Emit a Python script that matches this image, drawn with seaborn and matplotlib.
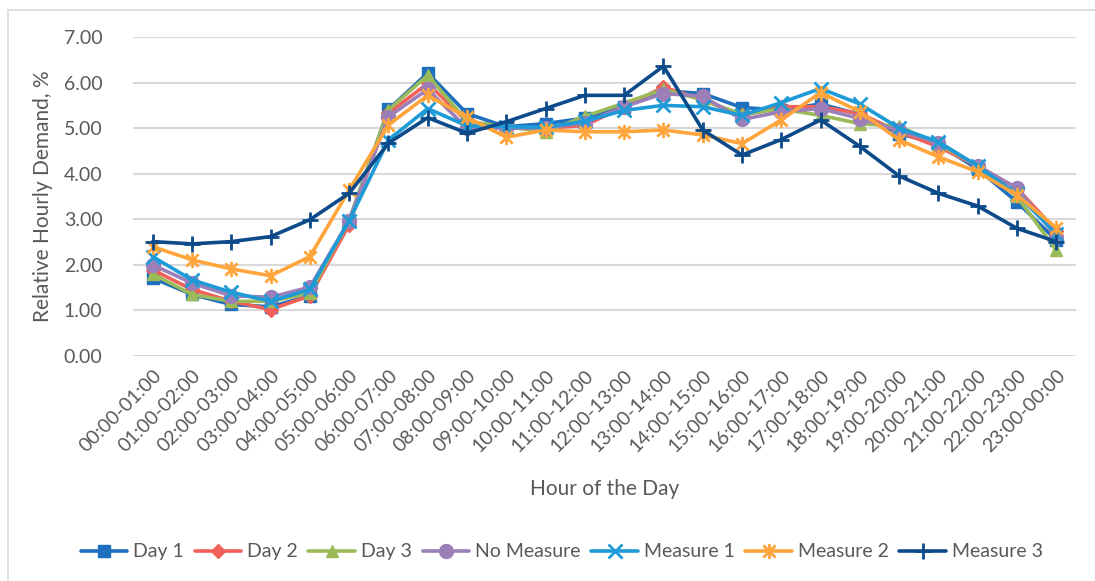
import numpy as np
import pandas as pd
import matplotlib
matplotlib.use("Agg")
import matplotlib.pyplot as plt
from matplotlib.path import Path
from matplotlib.patches import Rectangle
import seaborn as sns

# hours of the day (x categories)
hours = ["00:00-01:00", "01:00-02:00", "02:00-03:00", "03:00-04:00", "04:00-05:00",
         "05:00-06:00", "06:00-07:00", "07:00-08:00", "08:00-09:00", "09:00-10:00",
         "10:00-11:00", "11:00-12:00", "12:00-13:00", "13:00-14:00", "14:00-15:00",
         "15:00-16:00", "16:00-17:00", "17:00-18:00", "18:00-19:00", "19:00-20:00",
         "20:00-21:00", "21:00-22:00", "22:00-23:00", "23:00-00:00"]

# relative hourly demand, %
day1 = [1.71, 1.35, 1.13, 1.08, 1.32, 2.97, 5.41, 6.21, 5.32, 5.03, 5.10, 5.22,
        5.47, 5.82, 5.76, 5.45, 5.40, 5.53, 5.30, 4.88, 4.65, 4.10, 3.38, 2.54]
day2 = [1.89, 1.46, 1.20, 1.02, 1.32, 2.88, 5.33, 5.98, 5.15, 5.00, 5.00, 5.06,
        5.47, 5.90, 5.62, 5.28, 5.47, 5.47, 5.32, 4.92, 4.59, 4.17, 3.68, 2.75]
day3 = [1.80, 1.35, 1.20, 1.20, 1.38, 2.97, 5.40, 6.16, 5.15, 5.03, 4.92, 5.26,
        5.55, 5.85, 5.62, 5.30, 5.42, 5.28, 5.10, 5.04, 4.65, 4.17, 3.50, 2.32]
no_measure = [2.00, 1.60, 1.32, 1.29, 1.51, 2.97, 5.25, 5.85, 5.00, 5.00, 5.00, 5.12,
              5.47, 5.76, 5.70, 5.19, 5.36, 5.43, 5.21, 4.95, 4.68, 4.17, 3.68, 2.62]
measure1 = [2.18, 1.67, 1.40, 1.20, 1.46, 2.97, 4.74, 5.43, 5.05, 5.03, 5.02, 5.15,
            5.39, 5.50, 5.47, 5.28, 5.56, 5.87, 5.53, 5.00, 4.70, 4.17, 3.55, 2.68]
measure2 = [2.40, 2.11, 1.91, 1.76, 2.18, 3.64, 5.07, 5.72, 5.24, 4.80, 4.96, 4.92,
            4.92, 4.96, 4.85, 4.66, 5.18, 5.78, 5.36, 4.74, 4.37, 4.04, 3.53, 2.81]
measure3 = [2.51, 2.46, 2.51, 2.62, 2.99, 3.57, 4.67, 5.23, 4.89, 5.14, 5.43, 5.72,
            5.72, 6.36, 4.96, 4.41, 4.75, 5.18, 4.60, 3.95, 3.57, 3.29, 2.80, 2.51]

series_names = ["Day 1", "Day 2", "Day 3", "No Measure", "Measure 1", "Measure 2", "Measure 3"]
series_vals = [day1, day2, day3, no_measure, measure1, measure2, measure3]

colors = ["#1F6FBF", "#F2605A", "#9BBB59", "#9C7FB8", "#1E9BD7", "#FFA53C", "#0D4A8A"]

# asterisk marker (vertical bar + X) like Excel's "*"
star = Path([(0, -1), (0, 1), (-0.8, -0.8), (0.8, 0.8), (-0.8, 0.8), (0.8, -0.8)],
            [Path.MOVETO, Path.LINETO, Path.MOVETO, Path.LINETO, Path.MOVETO, Path.LINETO])
markers = ["s", "D", "^", "o", "x", star, "+"]
msizes = [9, 7, 9, 10, 10, 11, 11]

df = pd.DataFrame({"hour": hours})
for n, v in zip(series_names, series_vals):
    df[n] = v
long = df.melt(id_vars="hour", var_name="series", value_name="demand")

sns.set_style("white")
plt.rcParams["font.family"] = ["Lato", "DejaVu Sans"]

fig = plt.figure(figsize=(10.95, 5.81), dpi=100)
ax = fig.add_axes([0.1215, 0.3873, 0.8611, 0.549])

txt = "#595959"
for i, name in enumerate(series_names):
    sub = long[long["series"] == name]
    sns.lineplot(data=sub, x="hour", y="demand", ax=ax, color=colors[i],
                 marker=markers[i], markersize=msizes[i], linewidth=2.6,
                 markeredgecolor=colors[i], markeredgewidth=2 if i >= 4 else 1,
                 label=name, zorder=3 + i, sort=False)

ax.set_xlim(-0.5, 23.5)
ax.set_ylim(0, 7)
ax.set_yticks(np.arange(0, 7.5, 1))
ax.set_yticklabels([f"{t:.2f}" for t in np.arange(0, 7.5, 1)])
ax.grid(axis="y", color="#D9D9D9", linewidth=1.5)
ax.set_axisbelow(True)
for s in ax.spines.values():
    s.set_visible(False)
ax.tick_params(axis="both", length=0, colors=txt, labelsize=14)
ax.tick_params(axis="y", pad=22)
plt.setp(ax.get_xticklabels(), rotation=45, ha="right", va="top", rotation_mode="anchor")
ax.tick_params(axis="x", pad=8)

ax.set_xlabel("Hour of the Day", fontsize=15, color=txt, labelpad=17)
ax.set_ylabel("Relative Hourly Demand, %", fontsize=15, color=txt, labelpad=8)

ax.legend(loc="center", bbox_to_anchor=(0.513, 0.05), bbox_transform=fig.transFigure,
          ncol=7, frameon=False, fontsize=14, labelcolor=txt, handlelength=2.4,
          handletextpad=0.3, columnspacing=0.55)

fig.patches.append(Rectangle((8 / 1095, -0.1), 1.2, (581 - 10) / 581 + 0.1,
                             transform=fig.transFigure, fill=False,
                             edgecolor="#D9D9D9", linewidth=1.2))

fig.savefig("out.png", dpi=100)
